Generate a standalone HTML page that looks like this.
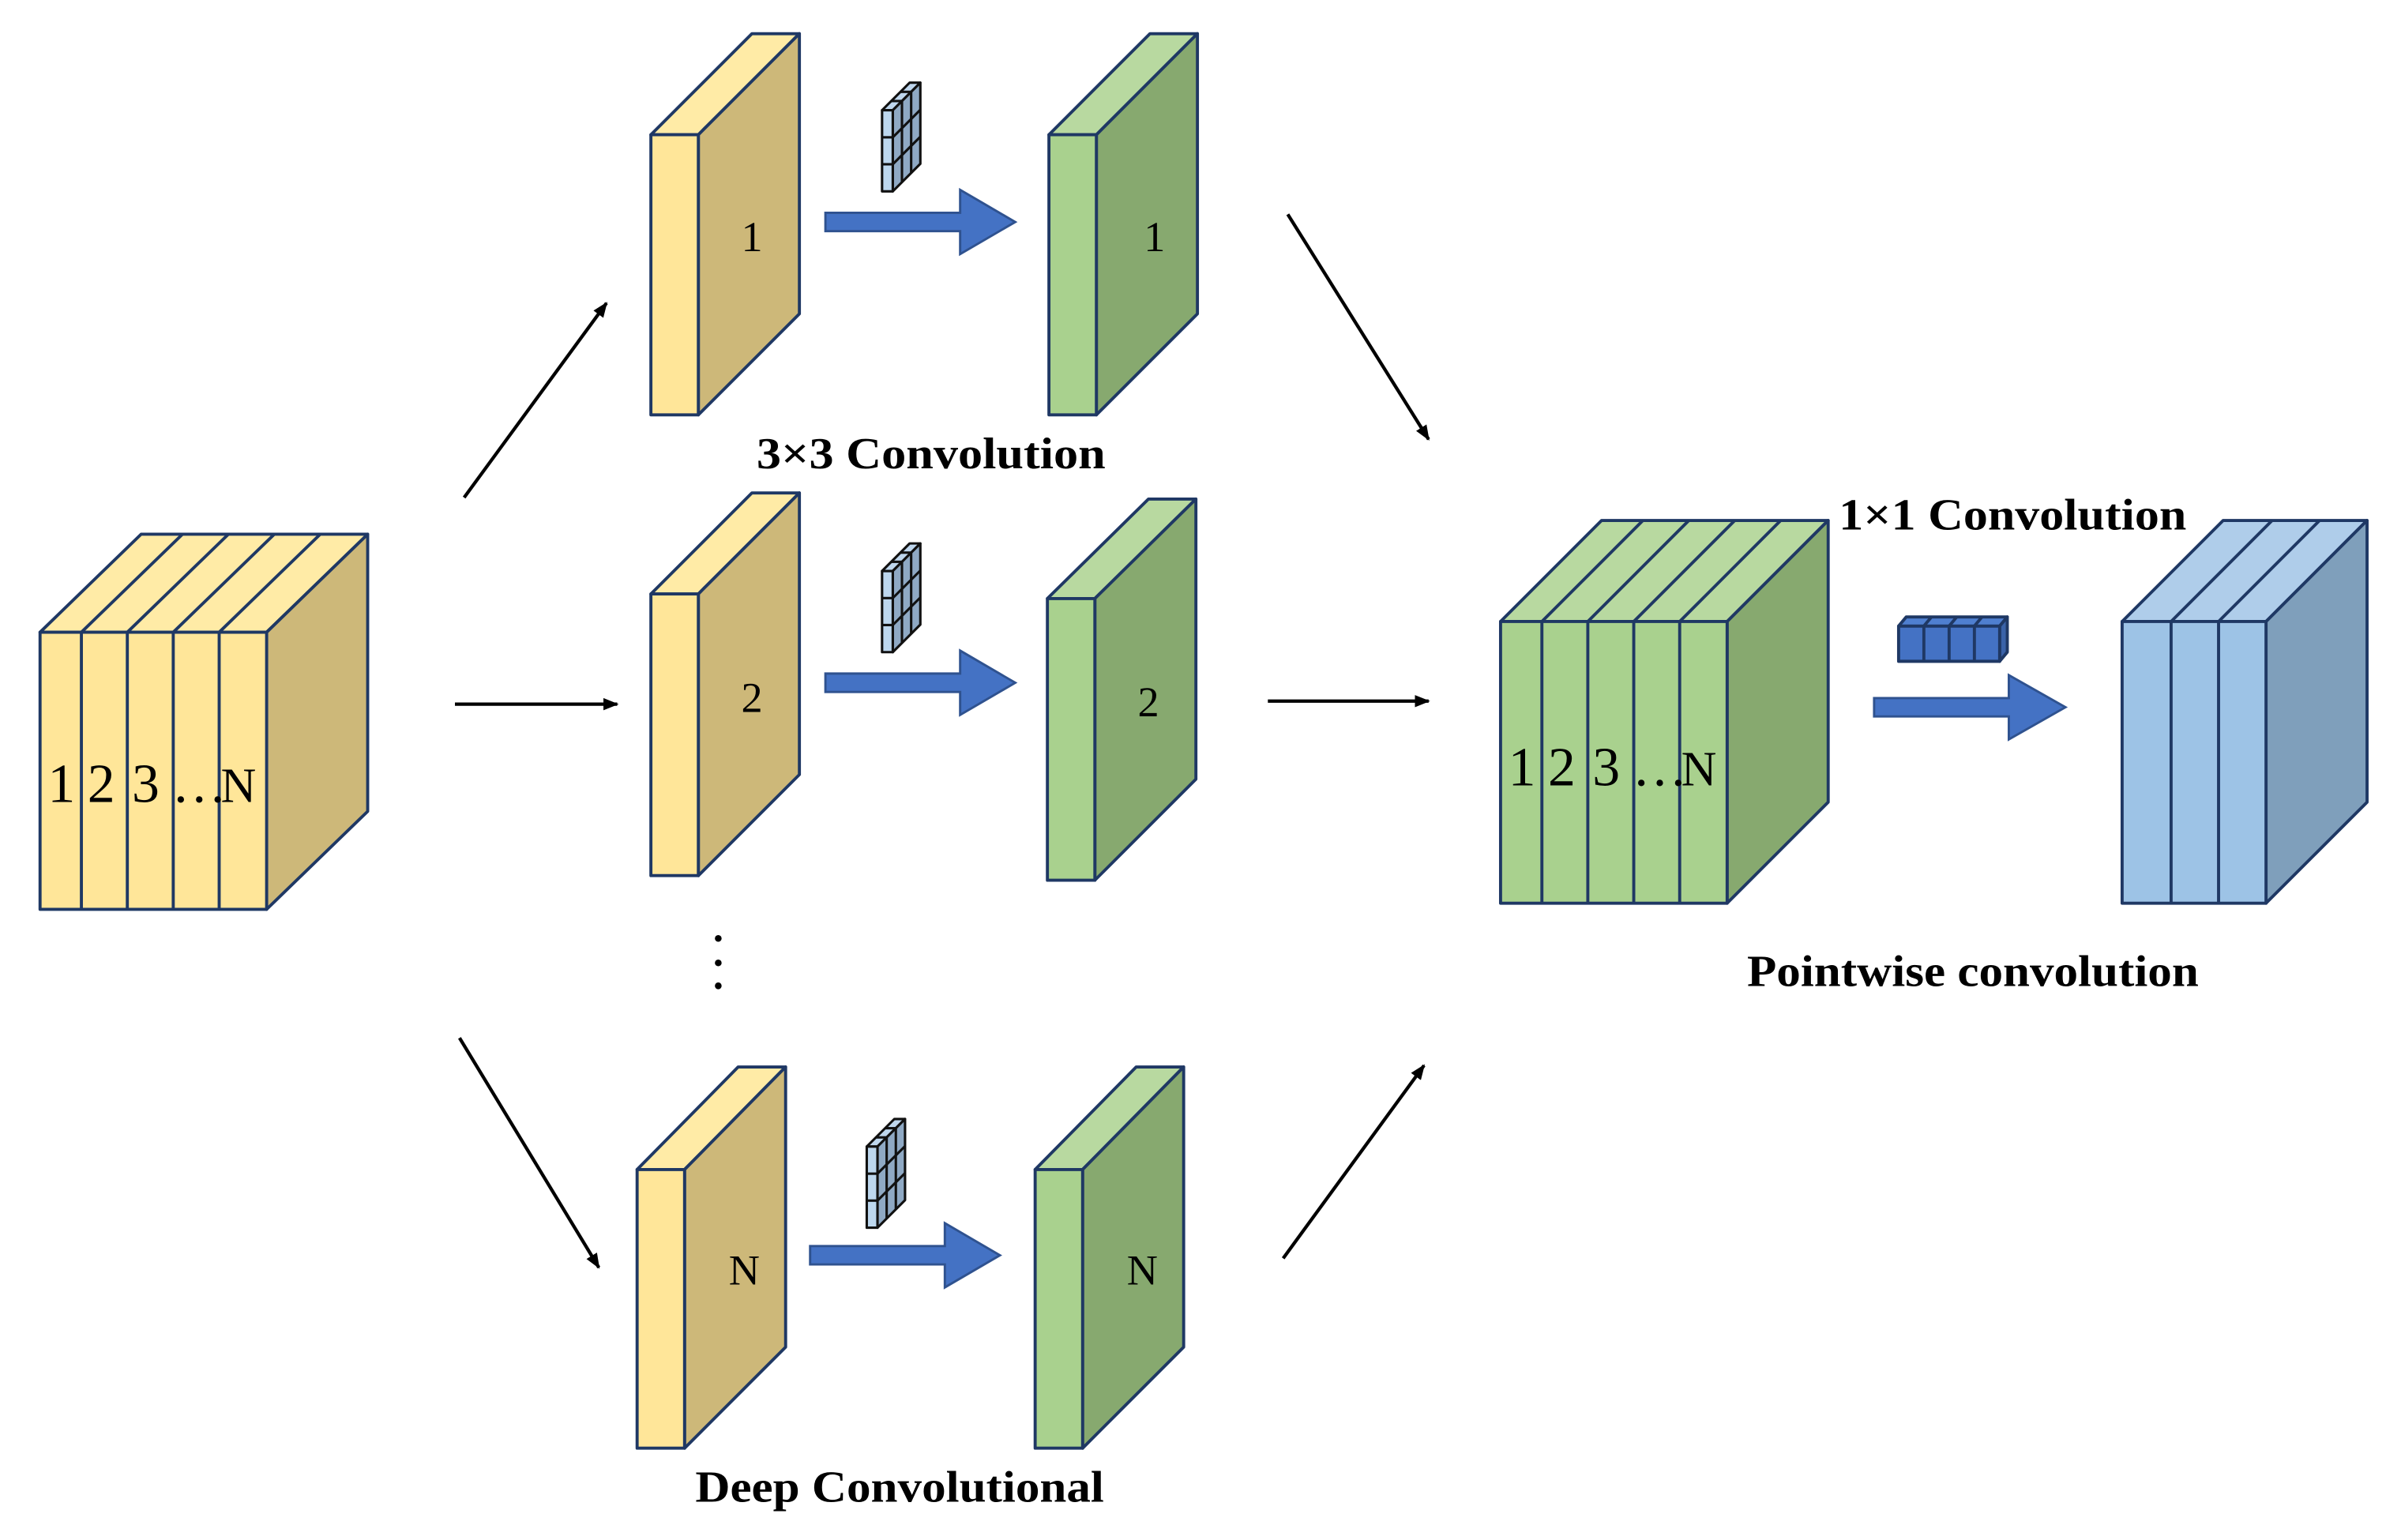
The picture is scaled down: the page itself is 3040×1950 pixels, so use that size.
<!DOCTYPE html>
<html><head><meta charset="utf-8"><style>html,body{margin:0;padding:0;background:#fff}svg{display:block}</style></head>
<body>
<svg width="3040" height="1950" viewBox="0 0 1568 1006" xmlns="http://www.w3.org/2000/svg" font-family="Liberation Serif, serif">
<defs>
<marker id="ah" markerWidth="10" markerHeight="8" refX="9" refY="4" orient="auto" markerUnits="userSpaceOnUse"><path d="M0,0 L10,4 L0,8 z" fill="#000"/></marker>
</defs>
<g stroke="#1F3864" stroke-width="2" stroke-linejoin="round">
<polygon points="26,413 92,349 240,349 174,413" fill="#FFEBA6"/>
<polygon points="174,413 240,349 240,530 174,594" fill="#CDB879"/>
<rect x="26" y="413" width="148" height="181" fill="#FFE699"/>
<g fill="none">
<line x1="53" y1="413" x2="53" y2="594"/><line x1="83" y1="413" x2="83" y2="594"/><line x1="113" y1="413" x2="113" y2="594"/><line x1="143" y1="413" x2="143" y2="594"/>
<line x1="53" y1="413" x2="119" y2="349"/><line x1="83" y1="413" x2="149" y2="349"/><line x1="113" y1="413" x2="179" y2="349"/><line x1="143" y1="413" x2="209" y2="349"/>
</g>
<polygon points="425,88 491,22 522,22 456,88" fill="#FFEBA6"/>
<polygon points="456,88 522,22 522,205 456,271" fill="#CDB879"/>
<rect x="425" y="88" width="31" height="183" fill="#FFE699"/>
<polygon points="425,388 491,322 522,322 456,388" fill="#FFEBA6"/>
<polygon points="456,388 522,322 522,506 456,572" fill="#CDB879"/>
<rect x="425" y="388" width="31" height="184" fill="#FFE699"/>
<polygon points="416,764 482,697 513,697 447,764" fill="#FFEBA6"/>
<polygon points="447,764 513,697 513,880 447,946" fill="#CDB879"/>
<rect x="416" y="764" width="31" height="182" fill="#FFE699"/>
<polygon points="685,88 751,22 782,22 716,88" fill="#B8D9A0"/>
<polygon points="716,88 782,22 782,205 716,271" fill="#87A96F"/>
<rect x="685" y="88" width="31" height="183" fill="#A9D18E"/>
<polygon points="684,391 750,326 781,326 715,391" fill="#B8D9A0"/>
<polygon points="715,391 781,326 781,509 715,575" fill="#87A96F"/>
<rect x="684" y="391" width="31" height="184" fill="#A9D18E"/>
<polygon points="676,764 742,697 773,697 707,764" fill="#B8D9A0"/>
<polygon points="707,764 773,697 773,880 707,946" fill="#87A96F"/>
<rect x="676" y="764" width="31" height="182" fill="#A9D18E"/>
<polygon points="980,406 1046,340 1194,340 1128,406" fill="#B8D9A0"/>
<polygon points="1128,406 1194,340 1194,524 1128,590" fill="#87A96F"/>
<rect x="980" y="406" width="148" height="184" fill="#A9D18E"/>
<g fill="none">
<line x1="1007" y1="406" x2="1007" y2="590"/><line x1="1037" y1="406" x2="1037" y2="590"/><line x1="1067" y1="406" x2="1067" y2="590"/><line x1="1097" y1="406" x2="1097" y2="590"/>
<line x1="1007" y1="406" x2="1073" y2="340"/><line x1="1037" y1="406" x2="1103" y2="340"/><line x1="1067" y1="406" x2="1133" y2="340"/><line x1="1097" y1="406" x2="1163" y2="340"/>
</g>
<polygon points="1386,406 1452,340 1546,340 1480,406" fill="#AFCDEA"/>
<polygon points="1480,406 1546,340 1546,524 1480,590" fill="#7F9FBB"/>
<rect x="1386" y="406" width="94" height="184" fill="#9DC3E6"/>
<g fill="none">
<line x1="1418" y1="406" x2="1418" y2="590"/><line x1="1449" y1="406" x2="1449" y2="590"/>
<line x1="1418" y1="406" x2="1484" y2="340"/><line x1="1449" y1="406" x2="1515" y2="340"/>
</g>
</g>
<g stroke="#111" stroke-width="1.6" stroke-linejoin="round">
<g id="k1" transform="translate(576,72)">
<polygon points="0,0 18,-18 25,-18 7,0" fill="#BFD7EE"/>
<polygon points="7,0 25,-18 25,35 7,53" fill="#8FA9C4"/>
<rect x="0" y="0" width="7" height="53" fill="#BDD7EE"/>
<line x1="0" y1="17.7" x2="7" y2="17.7"/><line x1="0" y1="35.3" x2="7" y2="35.3"/>
<line x1="7" y1="17.7" x2="25" y2="-0.3"/><line x1="7" y1="35.3" x2="25" y2="17.3"/>
<line x1="13" y1="-6" x2="13" y2="47"/><line x1="19" y1="-12" x2="19" y2="41"/>
<line x1="6" y1="-6" x2="13" y2="-6"/><line x1="12" y1="-12" x2="19" y2="-12"/>
</g>
<use href="#k1" transform="translate(0,301)"/>
<use href="#k1" transform="translate(-10,677)"/>
<g stroke="#1F3864" stroke-width="2">
<polygon points="1240,409 1245,403 1311,403 1306,409" fill="#4F7FD0"/>
<polygon points="1306,409 1311,403 1311,426 1306,432" fill="#3A62A8"/>
<rect x="1240" y="409" width="66" height="23" fill="#4472C4"/>
<line x1="1256.5" y1="409" x2="1256.5" y2="432"/><line x1="1273" y1="409" x2="1273" y2="432"/><line x1="1289.5" y1="409" x2="1289.5" y2="432"/>
<line x1="1256.5" y1="409" x2="1261.5" y2="403"/><line x1="1273" y1="409" x2="1278" y2="403"/><line x1="1289.5" y1="409" x2="1294.5" y2="403"/>
</g>
</g>
<g fill="#4472C4" stroke="#2F528F" stroke-width="1.5">
<polygon points="539,139 627,139 627,124 663,145 627,166 627,151 539,151"/>
<polygon points="539,440 627,440 627,425 663,446 627,467 627,452 539,452"/>
<polygon points="529,814 617,814 617,799 653,820 617,841 617,826 529,826"/>
<polygon points="1224,456 1312,456 1312,441 1349,462 1312,483 1312,468 1224,468"/>
</g>
<g stroke="#000" stroke-width="2.2" marker-end="url(#ah)">
<line x1="303" y1="325" x2="396" y2="198"/>
<line x1="297" y1="460" x2="403" y2="460"/>
<line x1="300" y1="678" x2="391" y2="828"/>
<line x1="841" y1="140" x2="933" y2="287"/>
<line x1="828" y1="458" x2="933" y2="458"/>
<line x1="838" y1="822" x2="930" y2="696"/>
</g>
<g fill="#000"><circle cx="469" cy="613" r="2.2"/><circle cx="469" cy="629" r="2.2"/><circle cx="469" cy="644" r="2.2"/></g>
<g fill="#000" font-size="28">
<text x="491" y="164" text-anchor="middle">1</text>
<text x="754" y="164" text-anchor="middle">1</text>
<text x="491" y="465" text-anchor="middle">2</text>
<text x="750" y="468" text-anchor="middle">2</text>
<text x="486" y="839" text-anchor="middle">N</text>
<text x="746" y="839" text-anchor="middle">N</text>
</g>
<g fill="#000" font-size="36">
<text x="31" y="524">1</text><text x="57" y="524">2</text><text x="86" y="524">3</text><text x="112" y="524">…</text><text x="144" y="524" font-size="32">N</text>
<text x="985" y="513">1</text><text x="1011" y="513">2</text><text x="1040" y="513">3</text><text x="1066" y="513">…</text><text x="1098" y="513" font-size="32">N</text>
</g>
<g fill="#000" font-size="29" font-weight="bold">
<text x="494" y="306" textLength="228" lengthAdjust="spacingAndGlyphs">3×3 Convolution</text>
<text x="1201" y="346" textLength="227" lengthAdjust="spacingAndGlyphs">1×1 Convolution</text>
<text x="1141" y="644" textLength="295" lengthAdjust="spacingAndGlyphs">Pointwise convolution</text>
<text x="454" y="981" textLength="267" lengthAdjust="spacingAndGlyphs">Deep Convolutional</text>
</g>
</svg>
</body></html>
